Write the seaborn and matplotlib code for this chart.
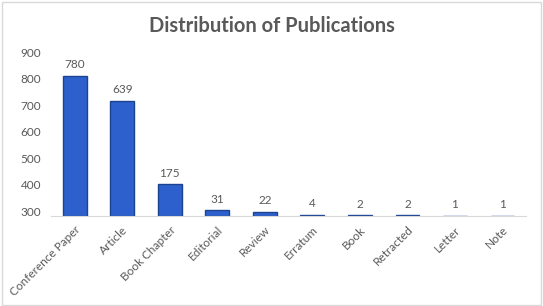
import numpy as np
import pandas as pd
import matplotlib
matplotlib.use("Agg")
import matplotlib.pyplot as plt
import seaborn as sns
from matplotlib.patches import Rectangle

# типы публикаций и их количество
categories = ["Conference Paper", "Article", "Book Chapter", "Editorial", "Review",
              "Erratum", "Book", "Retracted", "Letter", "Note"]
counts = [780, 639, 175, 31, 22, 4, 2, 2, 1, 1]
# подписи оси y как на исходной картинке
ytick_labels = ["300", "400", "500", "600", "700", "800", "900"]

df = pd.DataFrame({"type": categories, "count": counts})

sns.set_theme(style="white")
plt.rcParams['font.family'] = ['Lato', 'DejaVu Sans']
txt = "#595959"

fig = plt.figure(figsize=(5.43, 3.06), dpi=100)
ax = fig.add_axes([0.094, 0.295, 0.875, 0.558])

sns.barplot(data=df, x="type", y="count", color="#2D60CC", width=0.5,
            edgecolor="#1C4290", linewidth=1.0, saturation=1, ax=ax)

# подписи значений над столбцами
for i, v in enumerate(counts):
    ax.annotate(str(v), (i, v), xytext=(0, 4), textcoords="offset points",
                ha="center", va="bottom", fontsize=8.5, color=txt)

ax.set_xlim(-0.5, len(categories) - 0.5)
ax.set_ylim(0, 950)
ypos = np.linspace(26, 908, len(ytick_labels))
ax.set_yticks(ypos, ytick_labels)
ax.tick_params(axis="y", length=0, labelsize=8.5, labelcolor=txt, pad=7)
ax.set_xticks(range(len(categories)), categories, rotation=45, ha="right",
              rotation_mode="anchor")
ax.tick_params(axis="x", length=0, labelsize=8.5, labelcolor=txt, pad=6)
ax.set_xlabel("")
ax.set_ylabel("")
for s in ["left", "right", "top"]:
    ax.spines[s].set_visible(False)
ax.spines["bottom"].set_color("#D9D9D9")
ax.spines["bottom"].set_linewidth(0.8)

fig.text(0.5, 0.915, "Distribution of Publications", ha="center", va="center",
         fontsize=14.5, fontweight="bold", color=txt)

fig.patches.append(Rectangle((0.003, 0.004), 0.994, 0.99, transform=fig.transFigure,
                             fill=False, edgecolor="#D9D9D9", linewidth=1))

fig.savefig("out.png", dpi=100)
